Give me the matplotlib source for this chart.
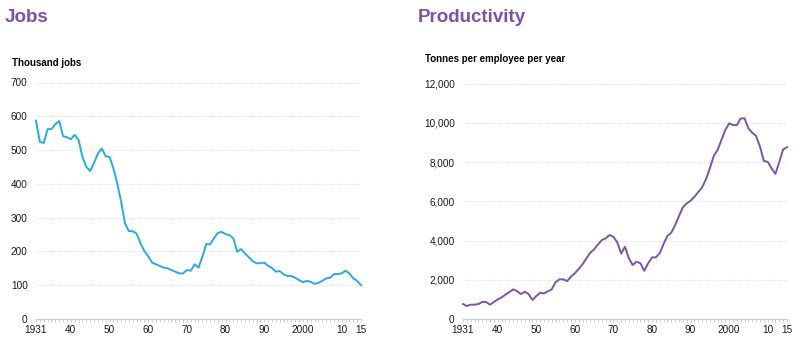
import matplotlib
matplotlib.use("Agg")
import matplotlib.pyplot as plt
from matplotlib.ticker import FuncFormatter, MultipleLocator

plt.rcParams['font.family'] = ['Liberation Sans', 'DejaVu Sans']

years = list(range(1931, 2016))

jobs = [587, 524, 521, 562, 562, 577, 586, 541, 538, 532,
        545, 530, 480, 450, 438, 462, 490, 505, 482, 480,
        446, 401, 347, 283, 260, 260, 253, 224, 201, 186,
        167, 162, 157, 152, 150, 145, 140, 135, 135, 145,
        143, 162, 152, 184, 222, 221, 239, 255, 258, 251,
        248, 239, 199, 207, 194, 183, 171, 165, 165, 167,
        157, 151, 140, 142, 132, 127, 127, 122, 115, 109,
        113, 110, 104, 107, 113, 120, 122, 133, 133, 135,
        143, 135, 120, 113, 100]

productivity = [764, 662, 730, 730, 760, 866, 866, 730, 866, 1000,
                1100, 1240, 1370, 1510, 1420, 1270, 1390, 1270, 970, 1170,
                1340, 1300, 1410, 1510, 1880, 2020, 2020, 1930, 2160, 2330,
                2550, 2790, 3090, 3380, 3550, 3800, 4020, 4110, 4280, 4190,
                3900, 3340, 3680, 3090, 2750, 2920, 2840, 2460, 2840, 3140,
                3140, 3350, 3820, 4240, 4400, 4790, 5250, 5690, 5890, 6030,
                6230, 6470, 6710, 7120, 7680, 8300, 8610, 9120, 9630, 9970,
                9880, 9880, 10220, 10220, 9710, 9490, 9320, 8780, 8050, 8010,
                7680, 7390, 8010, 8640, 8750]

xtick_years = [1931, 1940, 1950, 1960, 1970, 1980, 1990, 2000, 2010, 2015]
xtick_labels = ["1931", "40", "50", "60", "70", "80", "90", "2000", "10", "15"]

titles = ["Jobs", "Productivity"]
units = ["Thousand jobs", "Tonnes per employee per year"]

title_color = "#7a52a9"
jobs_color = "#29abe2"
prod_color = "#7b55a8"
text_color = "#1a1a1a"

fig = plt.figure(figsize=(8.0, 3.51), dpi=100)

ax1 = fig.add_axes([36/800, 1-319/351, (361-36)/800, (319-82.5)/351])
ax2 = fig.add_axes([463/800, 1-319/351, (787-463)/800, (319-83.5)/351])


def style(ax, ymax, ystep, fmt):
    ax.set_xlim(1931, 2015)
    ax.set_ylim(0, ymax)
    ax.yaxis.set_major_locator(MultipleLocator(ystep))
    ax.yaxis.set_major_formatter(FuncFormatter(fmt))
    for s in ["top", "right", "left"]:
        ax.spines[s].set_visible(False)
    ax.spines["bottom"].set_color("#cccccc")
    ax.spines["bottom"].set_linewidth(0.8)
    ax.set_xticks(xtick_years)
    ax.set_xticklabels(xtick_labels)
    ax.set_xticks(years, minor=True)
    ax.tick_params(axis="x", which="both", direction="out", length=2.5,
                   width=0.5, color="#bbbbbb", labelsize=7.2, labelcolor=text_color, pad=2)
    ax.tick_params(axis="y", which="both", length=0, labelsize=7.2,
                   labelcolor=text_color, pad=6)
    ax.grid(axis="y", color="#e2e2e2", linestyle=(0, (1, 1)), linewidth=0.8)
    ax.set_axisbelow(True)


style(ax1, 700, 100, lambda v, p: f"{int(v)}")
style(ax2, 12000, 2000, lambda v, p: f"{int(v):,}")

ax1.plot(years, jobs, color=jobs_color, linewidth=1.4, clip_on=False)
ax2.plot(years, productivity, color=prod_color, linewidth=1.4, clip_on=False)

fig.text(5/800, 1-17.5/351, titles[0], color=title_color, fontsize=13.5,
         fontweight="bold", va="center", ha="left")
fig.text(418/800, 1-18/351, titles[1], color=title_color, fontsize=13.5,
         fontweight="bold", va="center", ha="left")
fig.text(12/800, 1-62.5/351, units[0], color="#000000", fontsize=7,
         fontweight="bold", va="center", ha="left")
fig.text(425/800, 1-59.5/351, units[1], color="#000000", fontsize=7,
         fontweight="bold", va="center", ha="left")

fig.savefig("out.png", dpi=100)
